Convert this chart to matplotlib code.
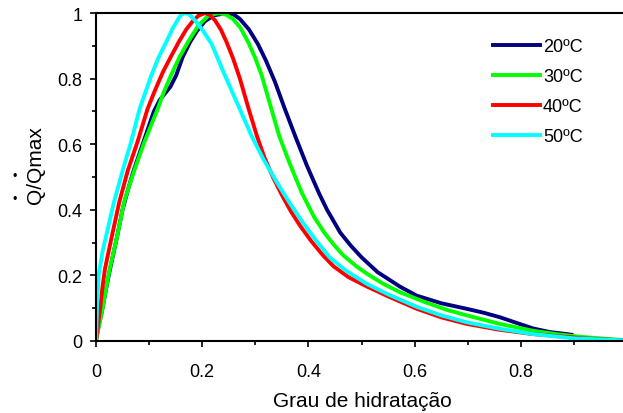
import numpy as np
import matplotlib
matplotlib.use("Agg")
import matplotlib.pyplot as plt
from matplotlib.ticker import MultipleLocator

plt.rcParams['font.family'] = ['Liberation Sans', 'DejaVu Sans']

# Grau de hidratacao vs Q/Qmax
x_20 = [0, 0.005, 0.011, 0.018, 0.026, 0.04, 0.05, 0.06, 0.07, 0.09, 0.109, 0.12,
        0.13, 0.14, 0.151, 0.163, 0.177, 0.19, 0.205, 0.222, 0.246, 0.26, 0.271,
        0.288, 0.305, 0.32, 0.337, 0.355, 0.375, 0.397, 0.42, 0.435, 0.46, 0.48,
        0.50, 0.53, 0.573, 0.604, 0.65, 0.698, 0.73, 0.761, 0.79, 0.823, 0.855,
        0.886, 0.895]
y_20 = [0, 0.045, 0.088, 0.15, 0.215, 0.32, 0.40, 0.46, 0.515, 0.61, 0.70, 0.735,
        0.755, 0.775, 0.81, 0.865, 0.911, 0.945, 0.975, 0.993, 1.0, 0.995, 0.982,
        0.95, 0.905, 0.855, 0.79, 0.71, 0.625, 0.535, 0.45, 0.40, 0.33, 0.29,
        0.255, 0.21, 0.165, 0.138, 0.115, 0.098, 0.086, 0.072, 0.056, 0.038, 0.027,
        0.021, 0.019]

x_30 = [0, 0.006, 0.011, 0.018, 0.026, 0.04, 0.053, 0.063, 0.073, 0.091, 0.116,
        0.128, 0.141, 0.157, 0.173, 0.192, 0.21, 0.23, 0.245, 0.258, 0.272, 0.287,
        0.3, 0.312, 0.328, 0.345, 0.365, 0.388, 0.41, 0.43, 0.447, 0.465, 0.49,
        0.51, 0.54, 0.573, 0.62, 0.66, 0.698, 0.76, 0.823, 0.87, 0.917, 0.99]
y_30 = [0, 0.05, 0.088, 0.15, 0.22, 0.32, 0.424, 0.475, 0.524, 0.606, 0.707,
        0.76, 0.809, 0.865, 0.911, 0.96, 0.99, 1.0, 0.995, 0.982, 0.955, 0.91,
        0.862, 0.81, 0.72, 0.625, 0.54, 0.45, 0.38, 0.33, 0.295, 0.262, 0.228,
        0.205, 0.175, 0.148, 0.118, 0.095, 0.078, 0.052, 0.031, 0.02, 0.012, 0.003]

x_40 = [0, 0.004, 0.008, 0.012, 0.017, 0.03, 0.044, 0.06, 0.078, 0.097, 0.11,
        0.126, 0.142, 0.157, 0.17, 0.182, 0.193, 0.205, 0.214, 0.224, 0.235, 0.246,
        0.258, 0.271, 0.287, 0.303, 0.317, 0.333, 0.35, 0.367, 0.384, 0.405, 0.428,
        0.447, 0.475, 0.51, 0.55, 0.604, 0.65, 0.698, 0.76, 0.823, 0.917, 0.99]
y_40 = [0, 0.05, 0.1, 0.16, 0.22, 0.32, 0.424, 0.52, 0.606, 0.707, 0.76,
        0.82, 0.87, 0.915, 0.95, 0.975, 0.992, 1.0, 0.995, 0.978, 0.95, 0.911,
        0.862, 0.80, 0.71, 0.625, 0.56, 0.5, 0.445, 0.395, 0.352, 0.305, 0.26,
        0.228, 0.195, 0.166, 0.136, 0.098, 0.072, 0.052, 0.034, 0.021, 0.008, 0.002]

x_50 = [0, 0.002, 0.005, 0.012, 0.022, 0.034, 0.051, 0.066, 0.082, 0.104, 0.118,
        0.132, 0.145, 0.156, 0.161, 0.166, 0.171, 0.176, 0.188, 0.2, 0.218, 0.243,
        0.27, 0.293, 0.315, 0.34, 0.365, 0.39, 0.415, 0.44, 0.47, 0.51, 0.55,
        0.604, 0.65, 0.698, 0.76, 0.823, 0.9, 0.99]
y_50 = [0, 0.1, 0.2, 0.27, 0.34, 0.424, 0.524, 0.606, 0.707, 0.809, 0.865,
        0.911, 0.955, 0.985, 0.995, 1.0, 0.999, 0.995, 0.975, 0.95, 0.905, 0.809,
        0.71, 0.625, 0.555, 0.485, 0.42, 0.36, 0.305, 0.255, 0.215, 0.174, 0.142,
        0.104, 0.078, 0.057, 0.037, 0.021, 0.008, 0.002]

labels = ["20ºC", "30ºC", "40ºC", "50ºC"]
colors = ["#000080", "#00FF00", "#FF0000", "#00FFFF"]

fig = plt.figure(figsize=(6.23, 4.14), dpi=100)
ax = fig.add_axes([0.154, 0.174, 0.846, 0.792])

series = [(x_20, y_20), (x_30, y_30), (x_40, y_40), (x_50, y_50)]
for (xs, ys), lab, col in zip(series, labels, colors):
    ax.plot(xs, ys, color=col, lw=2.8, label=lab, solid_joinstyle='round')

ax.set_xlim(0, 0.992)
ax.set_ylim(0, 1)
ax.xaxis.set_minor_locator(MultipleLocator(0.1))
ax.yaxis.set_minor_locator(MultipleLocator(0.1))
ax.set_xticks([0, 0.2, 0.4, 0.6, 0.8])
ax.set_xticklabels(["0", "0.2", "0.4", "0.6", "0.8"])
ax.set_yticks([0, 0.2, 0.4, 0.6, 0.8, 1.0])
ax.set_yticklabels(["0", "0.2", "0.4", "0.6", "0.8", "1"])
ax.tick_params(which='both', direction='out', labelsize=13, width=1.2)
ax.tick_params(which='major', length=4.5)
ax.tick_params(which='minor', length=3)
ax.tick_params(axis='x', pad=11.5)
ax.tick_params(axis='y', pad=5)
for s in ['left', 'bottom', 'top']:
    ax.spines[s].set_linewidth(1.5)
ax.spines['right'].set_visible(False)

fig.text(362 / 623, 1 - 407 / 414, "Grau de hidratação", fontsize=15,
         ha='center', va='baseline')
fig.text(35.5 / 623, 1 - 165 / 414, "Q/Qmax", rotation=90, fontsize=15,
         ha='center', va='center')
fig.text(15 / 623, 1 - 200 / 414, "•", fontsize=9, ha='center', va='center')
fig.text(15 / 623, 1 - 177 / 414, "•", fontsize=9, ha='center', va='center')

ax.legend(loc='upper left', bbox_to_anchor=(493 / 623, 1 - 39 / 414),
          bbox_transform=fig.transFigure, frameon=False, fontsize=13,
          handlelength=2.6, handletextpad=0.17, labelspacing=0.72,
          borderpad=0, borderaxespad=0)

fig.savefig("out.png", dpi=100)
